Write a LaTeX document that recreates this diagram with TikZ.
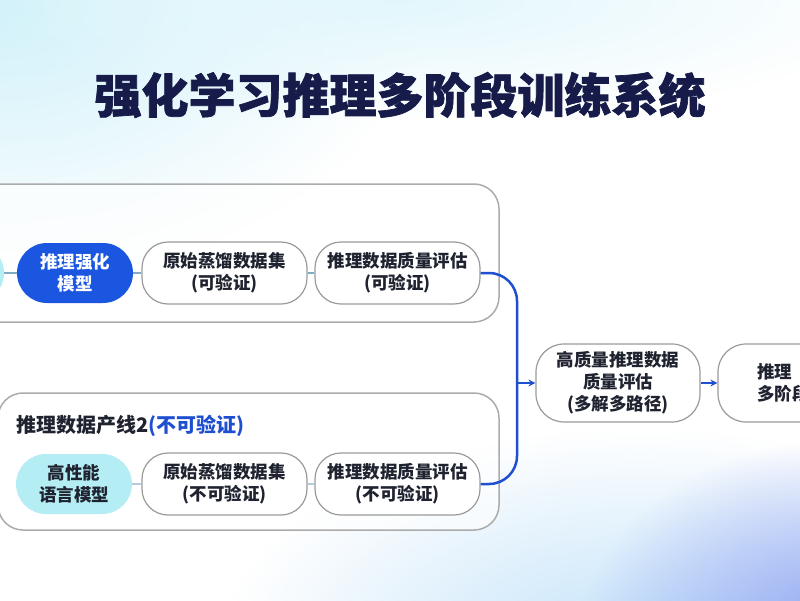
\documentclass[tikz,border=0pt]{standalone}
\usepackage{fontspec}
\setmainfont{Noto Sans CJK SC}
\newfontfamily\titlefont{Noto Sans CJK SC}[BoldFeatures={FakeBold=1.5}]
\usetikzlibrary{arrows.meta,fadings}
\definecolor{navy}{HTML}{161B4A}
\definecolor{bluefill}{HTML}{1A56E0}
\definecolor{cyanfill}{HTML}{B5EDF5}
\definecolor{flowblue}{HTML}{1E4FD0}
\definecolor{boxgray}{HTML}{ABABAB}
\definecolor{nodegray}{HTML}{9A9A9A}
\definecolor{txt}{HTML}{1F2330}
\definecolor{linkc}{HTML}{7FAAC4}
\definecolor{bgcyan}{HTML}{CFF1FA}
\definecolor{bgblue}{HTML}{C3E3FA}
\definecolor{bgviolet}{HTML}{8FA3F2}
\tikzfading[name=radfade, inner color=transparent!0, outer color=transparent!100]
\tikzset{
  base/.style={rectangle, align=center, font=\fontsize{17.5}{22}\selectfont\bfseries, inner sep=0pt},
  whitebox/.style={base, draw=nodegray, line width=1.2pt, fill=white, text=txt, minimum width=165pt, minimum height=62pt, rounded corners=26pt},
  bluebox/.style={base, fill=bluefill, text=white, minimum width=116pt, minimum height=60pt, rounded corners=30pt},
  cyanbox/.style={base, fill=cyanfill, text=txt, minimum width=116pt, minimum height=60pt, rounded corners=30pt},
  container/.style={draw=boxgray, line width=1.5pt, fill=white, fill opacity=0.6, rounded corners=25pt},
  link/.style={draw=linkc, line width=2.5pt},
  flow/.style={draw=flowblue, line width=2.5pt},
  flowarrow/.style={draw=flowblue, line width=2.5pt, -{Stealth[length=7pt,width=7pt]}},
}
\begin{document}
\begin{tikzpicture}[x=1pt,y=-1pt]
\useasboundingbox (0,0) rectangle (800,600);
\begin{scope}
\clip (0,0) rectangle (800,600);
% background
\fill[white] (0,0) rectangle (800,600);
\fill[color=bgcyan, path fading=radfade] (0,0) ellipse [x radius=420pt, y radius=280pt];
\fill[color=bgcyan!60, path fading=radfade] (400,0) ellipse [x radius=500pt, y radius=120pt];
\fill[color=bgblue, path fading=radfade] (640,650) ellipse [x radius=420pt, y radius=220pt];
\fill[color=bgviolet, path fading=radfade] (840,640) ellipse [x radius=260pt, y radius=200pt];

% title
\node[font=\titlefont\bfseries\fontsize{47}{50}\selectfont, text=navy, inner sep=0pt] (title) at (400,95) {强化学习推理多阶段训练系统};

% containers
\draw[container] (-120,184) rectangle (499,322);
\draw[container] (-2,393) rectangle (499,530);

% row 1
\node[cyanbox] (stub) at (-54,273) {};
\node[bluebox] (rl) at (75,273) {推理强化\\模型};
\node[whitebox] (d1) at (224.5,273) {原始蒸馏数据集\\(可验证)};
\node[whitebox] (e1) at (397.5,273) {推理数据质量评估\\(可验证)};

% row 2
\node[anchor=west, font=\fontsize{20}{24}\selectfont\bfseries, text=txt, inner sep=0pt] (lab2) at (16,426) {推理数据产线2\textcolor{flowblue}{(不可验证)}};
\node[cyanbox] (lm) at (74,484) {高性能\\语言模型};
\node[whitebox] (d2) at (224.5,484) {原始蒸馏数据集\\(不可验证)};
\node[whitebox] (e2) at (397.5,484) {推理数据质量评估\\(不可验证)};

% right side
\node[whitebox, minimum width=164pt, minimum height=78pt, rounded corners=28pt] (hq) at (618,383) {高质量推理数据\\质量评估\\(多解多路径)};
\node[whitebox, minimum width=164pt, minimum height=78pt, rounded corners=28pt, text width=86pt, align=left] (last) at (800,383) {推理\\多阶段};

% links
\draw[link] (stub.east) -- (rl.west);
\draw[link] (rl.east) -- (d1.west);
\draw[link] (d1.east) -- (e1.west);
\draw[link, draw=linkc!60] (lm.east) -- (d2.west);
\draw[link, draw=linkc!60] (d2.east) -- (e2.west);

\coordinate (bus) at (517,383);
\draw[flow, rounded corners=28pt] (e1.east) -| (bus) |- (e2.east);
\draw[flowarrow] (bus) -- (hq.west);
\draw[flowarrow] (hq.east) -- (last.west);
\end{scope}
\end{tikzpicture}
\end{document}
